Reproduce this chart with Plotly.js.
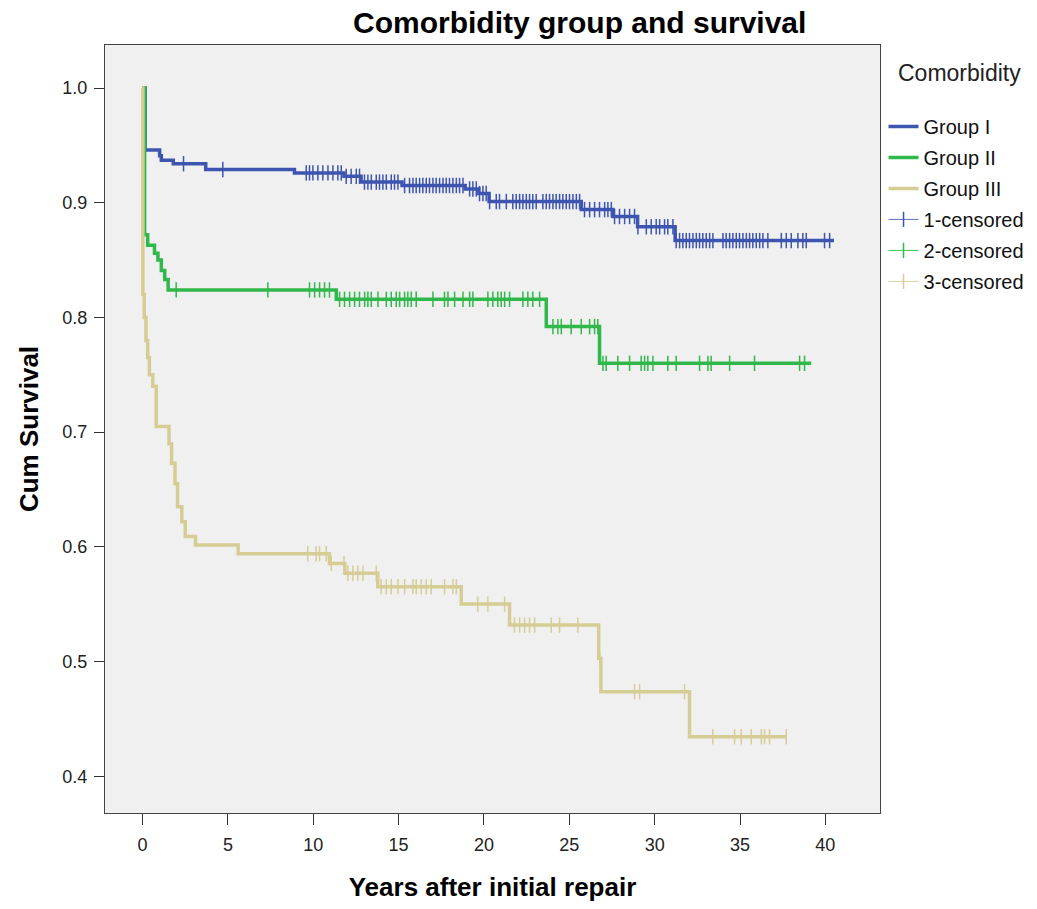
<!DOCTYPE html>
<html>
<head>
<meta charset="utf-8">
<script src="https://cdn.plot.ly/plotly-3.0.1.min.js"></script>
<style>html,body{margin:0;padding:0;background:#fff;}#chart{width:1037px;height:909px;}</style>
</head>
<body>
<div id="chart"></div>
<script>
// ---- Data (years, cumulative survival) ----
const groupNames = ["Group I", "Group II", "Group III"];
const censorNames = ["1-censored", "2-censored", "3-censored"];
const legendTitle = "Comorbidity";

const g1Times = [0, 0.15, 1.0, 1.1, 1.8, 3.7, 8.9, 11.8, 12.8, 15.2, 18.9, 19.7, 20.3, 25.7, 27.55, 29.0, 31.2];
const g1Surv  = [1.0, 0.946, 0.941, 0.937, 0.934, 0.929, 0.926, 0.923, 0.918, 0.915, 0.912, 0.908, 0.901, 0.894, 0.888, 0.879, 0.867];
const g1End = 40.5;
const g1Censor = [2.4, 4.7, 9.59, 9.78, 9.98, 10.27, 10.56, 10.86, 11.15, 11.44, 11.64, 11.93, 12.22, 12.52, 12.71, 13.0, 13.2, 13.4, 13.69, 13.88, 14.08, 14.28, 14.57, 14.76, 14.96, 15.35, 15.64, 15.84, 16.03, 16.23, 16.42, 16.62, 16.81, 17.01, 17.2, 17.4, 17.6, 17.79, 17.98, 18.18, 18.38, 18.57, 18.77, 19.16, 19.35, 19.55, 19.74, 19.94, 20.13, 20.33, 20.72, 20.91, 21.31, 21.69, 21.89, 22.09, 22.28, 22.48, 22.67, 22.86, 23.06, 23.45, 23.65, 23.84, 24.04, 24.23, 24.43, 24.62, 24.82, 25.01, 25.21, 25.41, 25.6, 25.89, 26.19, 26.48, 26.77, 27.07, 27.26, 27.46, 27.65, 27.94, 28.24, 28.53, 28.82, 29.02, 29.51, 29.8, 30.09, 30.29, 30.58, 30.77, 31.07, 31.26, 31.46, 31.65, 31.85, 32.04, 32.24, 32.44, 32.63, 32.82, 33.02, 33.22, 33.41, 34.0, 34.19, 34.39, 34.58, 34.78, 34.97, 35.17, 35.37, 35.56, 35.75, 35.95, 36.15, 36.34, 36.63, 37.42, 37.71, 38.0, 38.39, 38.68, 38.88, 39.95, 40.25];

const g2Times = [0, 0.12, 0.3, 0.7, 0.9, 1.1, 1.3, 1.5, 11.35, 23.65, 26.77];
const g2Surv  = [1.0, 0.872, 0.863, 0.856, 0.85, 0.841, 0.833, 0.824, 0.8158, 0.792, 0.76];
const g2End = 39.17;
const g2Censor = [1.97, 7.34, 9.78, 10.08, 10.37, 10.66, 10.95, 11.54, 11.83, 12.13, 12.42, 12.71, 13.01, 13.2, 13.4, 13.79, 14.28, 14.57, 14.86, 15.06, 15.35, 15.54, 15.74, 16.03, 17.01, 17.69, 17.89, 18.28, 18.77, 19.16, 19.35, 20.23, 20.52, 20.81, 21.01, 21.21, 21.5, 22.28, 22.57, 22.86, 23.26, 24.04, 24.33, 24.53, 25.11, 25.7, 26.19, 26.48, 26.67, 26.97, 27.16, 27.84, 28.53, 29.21, 29.41, 29.6, 29.9, 30.77, 31.26, 32.63, 33.12, 33.31, 34.39, 35.85, 38.49, 38.78];

const g3Times = [0, 0.02, 0.1, 0.2, 0.3, 0.4, 0.6, 0.8, 1.55, 1.7, 1.9, 2.05, 2.3, 2.5, 3.1, 5.6, 10.95, 11.85, 13.78, 18.67, 21.5, 26.72, 26.85, 32.04];
const g3Surv  = [1.0, 0.82, 0.80, 0.78, 0.765, 0.75, 0.74, 0.705, 0.69, 0.673, 0.655, 0.635, 0.622, 0.609, 0.6016, 0.594, 0.5856, 0.577, 0.5653, 0.5501, 0.5318, 0.503, 0.4737, 0.4345];
const g3End = 37.71;
const g3Censor = [9.68, 10.17, 10.37, 10.76, 11.05, 11.8, 12.03, 12.32, 12.61, 12.91, 13.69, 13.98, 14.28, 14.57, 14.96, 15.35, 15.84, 16.03, 16.33, 16.62, 16.91, 17.69, 18.18, 18.38, 19.64, 20.23, 21.21, 21.79, 22.09, 22.38, 22.67, 22.97, 23.94, 24.43, 25.5, 26.78, 28.82, 29.12, 31.75, 33.41, 34.68, 35.07, 35.66, 36.25, 36.44, 36.73, 37.71];

const xTicks = [0, 5, 10, 15, 20, 25, 30, 35, 40];
const yTicks = [0.4, 0.5, 0.6, 0.7, 0.8, 0.9, 1.0];

// ---- Styles ----
const lineColors = ["#3d55b0", "#30b84b", "#d6cd94"];
const censorColors = ["#5a6fc0", "#3cc45a", "#d9d2a0"];
const FONT = "Liberation Sans, Arial, sans-serif";

function stepAt(t, times, surv) {
  let v = surv[0];
  for (let i = 0; i < times.length; i++) { if (times[i] <= t) v = surv[i]; }
  return v;
}

const groups = [
  {times: g1Times, surv: g1Surv, end: g1End, cens: g1Censor},
  {times: g2Times, surv: g2Surv, end: g2End, cens: g2Censor},
  {times: g3Times, surv: g3Surv, end: g3End, cens: g3Censor}
];

const traces = [];
groups.forEach((g, i) => {
  traces.push({
    type: "scatter", mode: "lines", name: groupNames[i], legendgroup: "g" + i,
    x: g.times.concat([g.end]), y: g.surv.concat([g.surv[g.surv.length - 1]]),
    line: {shape: "hv", color: lineColors[i], width: 3.5},
    hoverinfo: "x+y"
  });
});
groups.forEach((g, i) => {
  const cx = [], cy = [];
  g.cens.forEach(t => { cx.push(t, null); cy.push(stepAt(t, g.times, g.surv), null); });
  traces.push({
    type: "scatter", mode: "lines+markers", name: censorNames[i], legendgroup: "c" + i,
    x: cx, y: cy, connectgaps: false,
    line: {color: censorColors[i], width: 1},
    marker: {symbol: "line-ns-open", size: 11, color: lineColors[i], line: {color: lineColors[i], width: 1.5}}
  });
});

const layout = {
  width: 1037, height: 909,
  margin: {l: 105, r: 157, t: 45, b: 96},
  paper_bgcolor: "#ffffff",
  plot_bgcolor: "#f0f0f0",
  font: {family: FONT, color: "#000"},
  title: {text: "<b>Comorbidity group and survival</b>", font: {size: 30, family: FONT, color: "#000"},
          xref: "container", x: 0.559, xanchor: "center", yref: "container", y: 0.975, yanchor: "middle"},
  xaxis: {
    range: [-2.2, 43.2], tickvals: xTicks, ticktext: xTicks.map(String),
    ticks: "outside", ticklen: 11, tickwidth: 1, tickcolor: "#333",
    showline: true, linecolor: "#444", linewidth: 1, mirror: true,
    showgrid: false, zeroline: false, ticklabelstandoff: 4,
    tickfont: {size: 18, family: FONT, color: "#222"},
    title: {text: "<b>Years after initial repair</b>", font: {size: 26, color: "#000"}, standoff: 24}
  },
  yaxis: {
    range: [0.368, 1.0375], tickvals: yTicks, ticktext: yTicks.map(v => v.toFixed(1)),
    ticks: "outside", ticklen: 10, tickwidth: 1, tickcolor: "#333",
    showline: true, linecolor: "#444", linewidth: 1, mirror: true,
    showgrid: false, zeroline: false, ticklabelstandoff: 3,
    tickfont: {size: 18, family: FONT, color: "#222"},
    title: {text: "<b>Cum Survival</b>", font: {size: 26, color: "#000"}, standoff: 16}
  },
  legend: {
    xref: "container", yref: "container", x: 0.852, y: 0.8824, xanchor: "left", yanchor: "top",
    bgcolor: "rgba(0,0,0,0)", traceorder: "grouped", tracegroupgap: 2,
    font: {size: 20, color: "#111"}, itemwidth: 30
  },
  annotations: [{
    text: legendTitle, xref: "paper", yref: "paper", x: 1.02, y: 0.963, xanchor: "left", yanchor: "middle",
    showarrow: false, font: {size: 23, color: "#222", family: FONT}
  }],
  showlegend: true
};

Plotly.newPlot("chart", traces, layout, {displayModeBar: false, staticPlot: true});
</script>
</body>
</html>
